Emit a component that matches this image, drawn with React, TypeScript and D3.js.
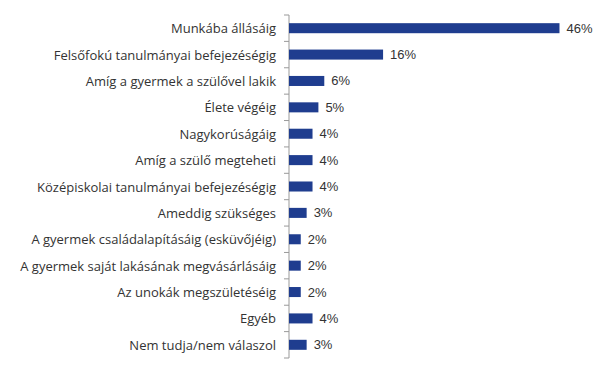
import React from "react";
import * as d3 from "d3";

const categories = [
  "Munkába állásáig",
  "Felsőfokú tanulmányai befejezéségig",
  "Amíg a gyermek a szülővel lakik",
  "Élete végéig",
  "Nagykorúságáig",
  "Amíg a szülő megteheti",
  "Középiskolai tanulmányai befejezéségig",
  "Ameddig szükséges",
  "A gyermek családalapításáig (esküvőjéig)",
  "A gyermek saját lakásának megvásárlásáig",
  "Az unokák megszületéséig",
  "Egyéb",
  "Nem tudja/nem válaszol",
];
const values = [46, 16, 6, 5, 4, 4, 4, 3, 2, 2, 2, 4, 3];

const W = 600;
const H = 376;
const axisX = 289;
const top = 15;
const bottom = 358;

export default function App() {
  const y = d3.scaleBand<string>().domain(categories).range([top, bottom]).paddingInner(0.62).paddingOuter(0.31);
  const x = d3.scaleLinear().domain([0, 50]).range([axisX, axisX + 294]);
  const step = (bottom - top) / categories.length;
  const ticks = d3.range(categories.length + 1).map((i) => top + i * step);
  return (
    <svg width={W} height={H} style={{ position: "absolute", left: 0, top: 0 }}>
      <rect width={W} height={H} fill="#fff" />
      <line x1={axisX} x2={axisX} y1={top} y2={bottom} stroke="#999" strokeWidth={1} />
      {ticks.map((t, i) => (
        <line key={i} x1={axisX - 5} x2={axisX} y1={t} y2={t} stroke="#999" strokeWidth={1} />
      ))}
      {categories.map((c, i) => {
        const by = y(c)!;
        const bh = y.bandwidth();
        const cy = by + bh / 2;
        return (
          <g key={c}>
            <rect x={x(0)} y={by} width={x(values[i]) - x(0)} height={bh} fill="#1f3d8f" />
            <text x={276} y={cy} textAnchor="end" dominantBaseline="central" fontFamily="Open Sans" fontSize={13} fill="#333">
              {c}
            </text>
            <text x={x(values[i]) + 7} y={cy} dominantBaseline="central" fontFamily="Liberation Sans" fontSize={13} fill="#333">
              {values[i] + "%"}
            </text>
          </g>
        );
      })}
    </svg>
  );
}
